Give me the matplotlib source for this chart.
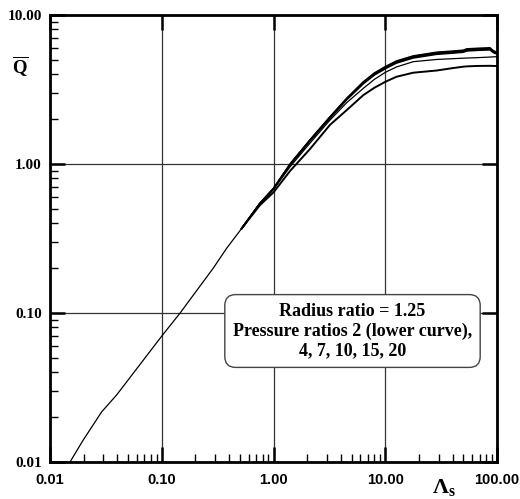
import matplotlib
matplotlib.use("Agg")
import matplotlib.pyplot as plt
from matplotlib.ticker import LogLocator, NullFormatter, FixedLocator

plt.rcParams['mathtext.fontset'] = 'custom'
plt.rcParams['mathtext.rm'] = 'Liberation Serif:bold'
plt.rcParams['mathtext.it'] = 'Liberation Serif:bold'
plt.rcParams['mathtext.bf'] = 'Liberation Serif:bold'

# shared low-range curve
x_low = [0.0151, 0.0199, 0.029, 0.0395, 0.1, 0.146, 0.289, 0.381, 0.52, 0.757]
y_low = [0.010, 0.0141, 0.0217, 0.0282, 0.070, 0.100, 0.200, 0.272, 0.37, 0.545]

# curves for pressure ratios
x_hi = [0.52, 0.757, 1.0, 1.41, 2.12, 3.2, 4.52, 6.37, 8.0, 10.0, 12.6, 17.8, 28.8, 40.0, 50.0, 53.6, 65.8, 86.5, 92.7, 100.0]
y_p2 = [0.37, 0.53, 0.645, 0.90, 1.26, 1.83, 2.30, 2.90, 3.25, 3.56, 3.85, 4.10, 4.24, 4.40, 4.50, 4.52, 4.55, 4.56, 4.55, 4.55]
y_p4 = [0.37, 0.54, 0.675, 0.96, 1.38, 1.97, 2.58, 3.22, 3.70, 4.12, 4.48, 4.86, 5.03, 5.09, 5.13, 5.14, 5.17, 5.22, 5.24, 5.25]
y_p7 = [0.37, 0.543, 0.681, 0.99, 1.43, 2.03, 2.70, 3.46, 3.96, 4.36, 4.76, 5.15, 5.45, 5.55, 5.63, 5.74, 5.79, 5.84, 5.60, 5.47]
y_p10 = [0.37, 0.544, 0.683, 0.995, 1.44, 2.05, 2.72, 3.50, 4.00, 4.41, 4.82, 5.21, 5.51, 5.61, 5.69, 5.80, 5.85, 5.90, 5.65, 5.52]
y_p15 = [0.37, 0.545, 0.684, 0.998, 1.445, 2.06, 2.74, 3.53, 4.04, 4.45, 4.86, 5.26, 5.57, 5.67, 5.75, 5.86, 5.91, 5.96, 5.70, 5.57]
y_p20 = [0.37, 0.545, 0.685, 1.0, 1.45, 2.07, 2.76, 3.56, 4.08, 4.50, 4.91, 5.31, 5.62, 5.72, 5.80, 5.92, 5.97, 6.02, 5.75, 5.62]

xticks = [0.01, 0.1, 1, 10, 100]
xlabels = ['0.01', '0.10', '1.00', '10.00', '100.00']
yticks = [0.01, 0.1, 1, 10]
ylabels = ['0.01', '0.10', '1.00', '10.00']

W, H = 520, 499
fig = plt.figure(figsize=(W / 100, H / 100), dpi=100)
ax = fig.add_axes([50 / W, 1 - 462 / H, (497 - 50) / W, (462 - 15) / H])
ax.set_xscale('log')
ax.set_yscale('log')
ax.set_xlim(0.01, 100)
ax.set_ylim(0.01, 10)

ax.grid(True, which='major', color='#333333', lw=0.9, zorder=0)

ax.plot(x_low, y_low, color='black', lw=0.9, zorder=3)
ax.plot(x_hi, y_p2, color='black', lw=1.4, zorder=3)
ax.plot(x_hi, y_p4, color='black', lw=0.9, zorder=3)
for yy in (y_p7, y_p10, y_p15, y_p20):
    ax.plot(x_hi, yy, color='black', lw=1.2, zorder=3)

for s in ax.spines.values():
    s.set_linewidth(2.0)
    s.set_zorder(5)

ax.xaxis.set_major_locator(FixedLocator(xticks))
ax.set_xticklabels(xlabels)
ax.yaxis.set_major_locator(FixedLocator(yticks))
ax.set_yticklabels(ylabels)
ax.xaxis.set_minor_locator(LogLocator(base=10, subs=range(2, 10)))
ax.yaxis.set_minor_locator(LogLocator(base=10, subs=range(2, 10)))
ax.xaxis.set_minor_formatter(NullFormatter())
ax.yaxis.set_minor_formatter(NullFormatter())

ax.tick_params(which='major', direction='in', length=11, width=1.8, color='black',
               top=True, right=True, pad=8)
ax.tick_params(which='minor', direction='in', length=6, width=1.0, color='black',
               top=False, right=False)
ax.tick_params(axis='y', which='major', pad=6)

for lab in ax.get_xticklabels():
    lab.set_fontfamily('Liberation Sans')
    lab.set_fontweight('bold')
    lab.set_fontsize(10.5)
for lab in ax.get_yticklabels():
    lab.set_fontfamily('Liberation Serif')
    lab.set_fontweight('bold')
    lab.set_fontsize(11)

ax.text((352.5 - 50) / (497 - 50), 1 - (331 - 15) / (462 - 15),
        'Radius ratio = 1.25\nPressure ratios 2 (lower curve),\n4, 7, 10, 15, 20',
        transform=ax.transAxes, ha='center', va='center',
        fontfamily='Liberation Serif', fontweight='bold', fontsize=13, linespacing=1.2,
        bbox=dict(boxstyle='round,pad=0.45,rounding_size=0.6', fc='white', ec='#444444', lw=1.0),
        zorder=6)

fig.text(20 / W, 1 - 66 / H, r'$\overline{\mathrm{Q}}$', fontsize=13.5, ha='center', va='center')
fig.text(444 / W, 1 - 487 / H, r'$\Lambda_\mathrm{s}$', fontsize=16, ha='center', va='center')

fig.savefig('out.png', dpi=100)
